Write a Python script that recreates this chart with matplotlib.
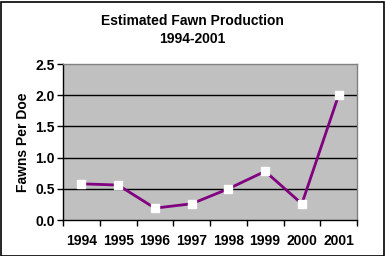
import matplotlib
matplotlib.use("Agg")
import matplotlib.pyplot as plt
from matplotlib.patches import Rectangle

years = ['1994', '1995', '1996', '1997', '1998', '1999', '2000', '2001']
fawns_per_doe = [0.58, 0.56, 0.19, 0.26, 0.50, 0.78, 0.26, 2.00]
y_ticks = [0.0, 0.5, 1.0, 1.5, 2.0, 2.5]

plt.rcParams['font.family'] = ['Liberation Sans', 'DejaVu Sans']
plt.rcParams['font.weight'] = 'bold'

fig = plt.figure(figsize=(3.85, 2.56), dpi=100)
ax = fig.add_axes([63 / 385, 1 - 220 / 256, (357 - 63) / 385, (220 - 64) / 256])
ax.set_facecolor('#C0C0C0')

x = list(range(len(years)))
ax.plot(x, fawns_per_doe, color='#800080', linewidth=2, marker='s', markersize=5.5,
        markerfacecolor='white', markeredgecolor='white', zorder=3)

ax.set_xlim(-0.5, len(years) - 0.5)
ax.set_ylim(0, 2.5)
ax.set_yticks(y_ticks)
ax.set_yticklabels(['%.1f' % v for v in y_ticks], fontsize=10, fontweight='bold')
for v in y_ticks[1:-1]:
    ax.axhline(v, color='black', linewidth=1, zorder=1)

# category labels centred, ticks between categories
ax.set_xticks([i - 0.5 for i in range(len(years) + 1)])
ax.set_xticklabels([])
ax.set_xticks(x, minor=True)
ax.set_xticklabels(years, minor=True, fontsize=10, fontweight='bold')
ax.tick_params(axis='x', which='minor', length=0, pad=10)
ax.tick_params(axis='x', which='major', length=4, width=1, direction='out')
ax.tick_params(axis='y', length=4, width=1, direction='out', pad=2)

ax.spines['left'].set_color('black')
ax.spines['bottom'].set_color('black')
ax.spines['top'].set_color('#808080')
ax.spines['right'].set_color('#808080')
for s in ax.spines.values():
    s.set_linewidth(1)

ax.set_ylabel('Fawns Per Doe', fontsize=10, fontweight='bold', labelpad=4)
fig.text(192 / 385, 1 - 21 / 256, 'Estimated Fawn Production', ha='center', va='center',
         fontsize=10, fontweight='bold')
fig.text(192 / 385, 1 - 39 / 256, '1994-2001', ha='center', va='center',
         fontsize=10, fontweight='bold')

# outer frame
fig.patches.append(Rectangle((0.5 / 385, 0.5 / 256), 383 / 385, 254 / 256, transform=fig.transFigure,
                             fill=False, edgecolor='black', linewidth=1.2))

fig.savefig('out.png', dpi=100)
